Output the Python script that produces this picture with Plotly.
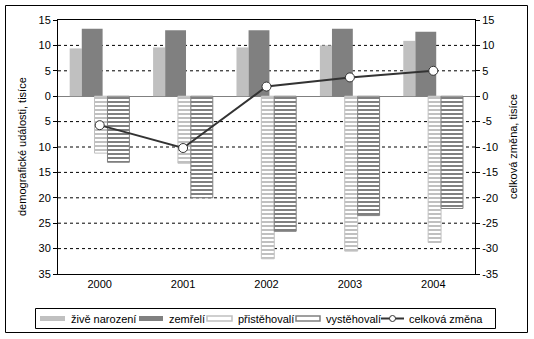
import plotly.graph_objects as go

# Demographic balance, thousands of persons
years = ["2000", "2001", "2002", "2003", "2004"]
births = [9.4, 9.6, 9.6, 10.0, 10.9]          # živě narození
deaths = [13.3, 13.0, 13.0, 13.3, 12.7]       # zemřelí
immigrants = [11.2, 13.2, 32.0, 30.5, 28.8]   # přistěhovalí
emigrants = [13.0, 20.0, 26.6, 23.5, 22.1]    # vystěhovalí
net_change = [-5.7, -10.2, 1.9, 3.7, 5.0]     # celková změna

y_ticks = list(range(-35, 20, 5))
left_labels = [str(abs(v)) for v in y_ticks]
right_labels = [str(v) for v in y_ticks]
grid_levels = [v for v in y_ticks if v not in (-35, 0, 15)]

W, H = 534, 339
ML, MR, MT, MB = 58, 59, 20, 65
PW, PH = W - ML - MR, H - MT - MB
X_RANGE = [-0.5, 4.5]

def px(x):
    return (x - ML) / PW

def py(y):
    return (H - MB - y) / PH

FONT = "Liberation Sans, Arial, sans-serif"
LIGHT = "#C0C0C0"
DARK = "#808080"
LINE = "#333333"

xs = list(range(len(years)))
neg_imm = [-v for v in immigrants]
neg_emi = [-v for v in emigrants]

fig = go.Figure()
fig.add_trace(go.Bar(x=xs, y=births, offset=-0.36, width=0.145,
                     marker=dict(color=LIGHT, line=dict(width=0)),
                     name="živě narození"))
fig.add_trace(go.Bar(x=xs, y=deaths, offset=-0.215, width=0.25,
                     marker=dict(color=DARK, line=dict(width=0)),
                     name="zemřelí"))
fig.add_trace(go.Bar(x=xs, y=neg_imm, offset=-0.062, width=0.155,
                     marker=dict(color="white", line=dict(color=LIGHT, width=1),
                                 pattern=dict(shape="-", fgcolor=LIGHT, bgcolor="white",
                                              size=4, solidity=0.5)),
                     name="přistěhovalí"))
fig.add_trace(go.Bar(x=xs, y=neg_emi, offset=0.093, width=0.263,
                     marker=dict(color="white", line=dict(color=DARK, width=1),
                                 pattern=dict(shape="-", fgcolor=DARK, bgcolor="white",
                                              size=4, solidity=0.5)),
                     name="vystěhovalí"))
fig.add_trace(go.Scatter(x=xs, y=net_change, yaxis="y2", mode="lines+markers",
                         line=dict(color=LINE, width=2),
                         marker=dict(size=9, color="white", line=dict(color=LINE, width=1)),
                         name="celková změna"))

shapes = []
# dashed gridlines built from short solid segments (3 px on, 3 px off),
# placed between the axis layer and the traces so bars cover them
units_per_px = (X_RANGE[1] - X_RANGE[0]) / PW
DASH, GAP = 3, 3
for g in grid_levels:
    pos = 0
    while pos < PW:
        a = X_RANGE[0] + pos * units_per_px
        b = X_RANGE[0] + min(pos + DASH, PW) * units_per_px
        shapes.append(dict(type="line", xref="x", yref="y", x0=a, x1=b, y0=g, y1=g,
                           line=dict(color="black", width=1), layer="between"))
        pos += DASH + GAP
# outer chart frame
shapes.append(dict(type="rect", xref="paper", yref="paper",
                   x0=px(5.5), x1=px(527.5), y0=py(332.5), y1=py(5.5),
                   line=dict(color="black", width=1)))
# legend frame
shapes.append(dict(type="rect", xref="paper", yref="paper",
                   x0=px(35.5), x1=px(495.5), y0=py(328.5), y1=py(308.5),
                   line=dict(color="black", width=1), fillcolor="white"))

ly = 318.5
legend_items = [
    ("solid", LIGHT, 40, 65, 69, "živě narození"),
    ("solid", DARK, 139, 163, 167, "zemřelí"),
    ("stripe", LIGHT, 207, 232, 236, "přistěhovalí"),
    ("stripe", DARK, 296, 320, 324, "vystěhovalí"),
    ("line", LINE, 381, 404, 407, "celková změna"),
]
annotations = []
for kind, col, sx0, sx1, tx, label in legend_items:
    if kind == "solid":
        shapes.append(dict(type="rect", xref="paper", yref="paper",
                           x0=px(sx0), x1=px(sx1), y0=py(ly + 2.5), y1=py(ly - 2.5),
                           line=dict(width=0), fillcolor=col))
    elif kind == "stripe":
        shapes.append(dict(type="rect", xref="paper", yref="paper",
                           x0=px(sx0), x1=px(sx1), y0=py(ly + 2.5), y1=py(ly - 2.5),
                           line=dict(color=col, width=1.5), fillcolor="white"))
    else:
        shapes.append(dict(type="line", xref="paper", yref="paper",
                           x0=px(sx0), x1=px(sx1), y0=py(ly), y1=py(ly),
                           line=dict(color=col, width=2)))
        cx = (sx0 + sx1) / 2
        shapes.append(dict(type="circle", xref="paper", yref="paper",
                           x0=px(cx - 3), x1=px(cx + 3), y0=py(ly + 3), y1=py(ly - 3),
                           line=dict(color=col, width=1), fillcolor="white"))
    annotations.append(dict(text=label, xref="paper", yref="paper", x=px(tx), y=py(ly),
                            xanchor="left", yanchor="middle", showarrow=False,
                            font=dict(family=FONT, size=11, color="black")))

# axis titles
annotations.append(dict(text="demografické události, tisíce", xref="paper", yref="paper",
                        x=px(22), y=0.5, textangle=-90, showarrow=False,
                        xanchor="center", yanchor="middle",
                        font=dict(family=FONT, size=11, color="black")))
annotations.append(dict(text="celková změna, tisíce", xref="paper", yref="paper",
                        x=px(513), y=0.5, textangle=-90, showarrow=False,
                        xanchor="center", yanchor="middle",
                        font=dict(family=FONT, size=11, color="black")))

axis_font = dict(family=FONT, size=11, color="black")
fig.update_layout(
    template="none",
    width=W, height=H,
    margin=dict(l=ML, r=MR, t=MT, b=MB),
    paper_bgcolor="white", plot_bgcolor="white",
    barmode="overlay", showlegend=False,
    font=axis_font,
    shapes=shapes, annotations=annotations,
    xaxis=dict(range=X_RANGE, tickvals=xs, ticktext=years, ticks="",
               showline=True, linecolor="black", linewidth=1, mirror=True,
               showgrid=False, zeroline=False, tickfont=axis_font),
    yaxis=dict(range=[-35, 15], tickvals=y_ticks, ticktext=left_labels,
               ticks="outside", ticklen=4, tickcolor="black",
               showline=True, linecolor="black", linewidth=1,
               showgrid=False,
               zeroline=True, zerolinecolor=DARK, zerolinewidth=1,
               tickfont=axis_font),
    yaxis2=dict(range=[-35, 15], tickvals=y_ticks, ticktext=right_labels,
                overlaying="y", side="right",
                ticks="outside", ticklen=4, tickcolor="black",
                showline=True, linecolor="black", linewidth=1,
                showgrid=False, zeroline=False, tickfont=axis_font),
)

fig.write_html("out.html")
